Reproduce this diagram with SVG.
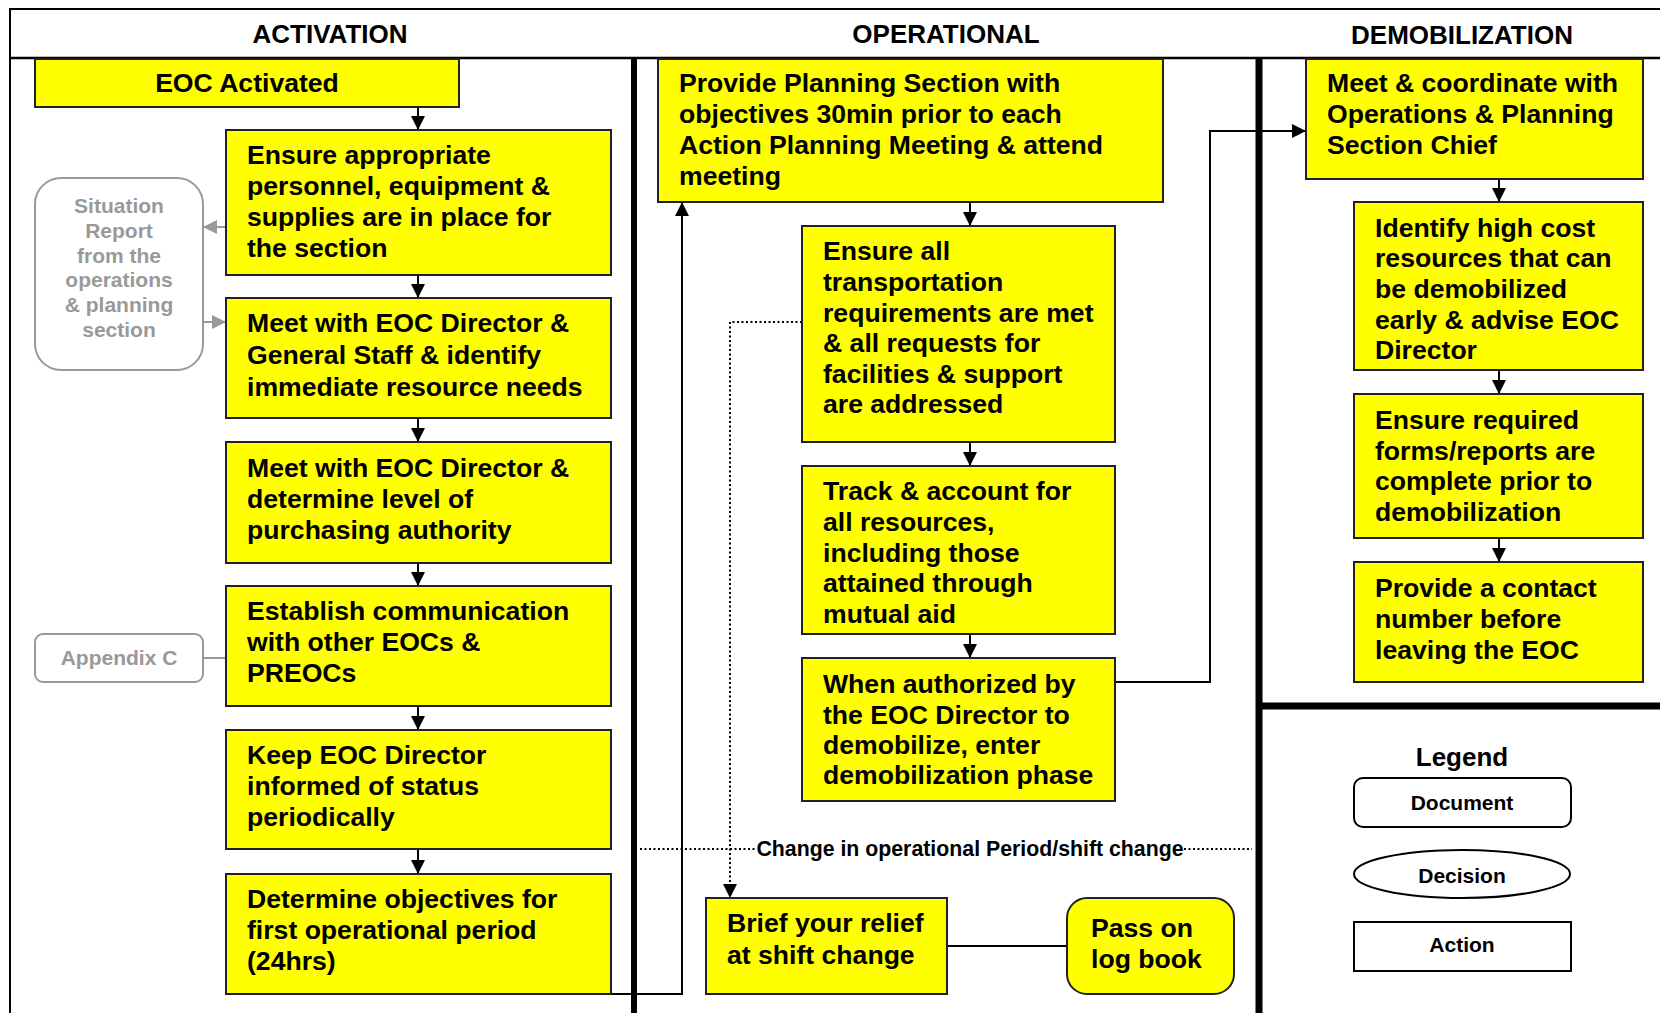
<svg xmlns="http://www.w3.org/2000/svg" width="1660" height="1013" viewBox="0 0 1660 1013">
<style>
  text { font-family: "Liberation Sans", Arial, sans-serif; font-weight: bold; }
  .hdr { font-size: 26px; fill: #000; text-anchor: middle; }
  .act rect { fill: #ffff00; stroke: #222; stroke-width: 2; }
  .act text { font-size: 26.6px; fill: #000; }
  .doc rect { fill: #fff; stroke: #999; stroke-width: 2; }
  .doc text { font-size: 21px; fill: #999; text-anchor: middle; }
  .leg rect, .leg ellipse { fill: #fff; stroke: #000; stroke-width: 2; }
  .leg text { font-size: 21px; fill: #000; text-anchor: middle; }
  .leg text.legtitle { font-size: 26px; }
  .frame { stroke: #000; fill: none; }
  .c { fill: none; stroke: #000; stroke-width: 2; }
  .cg { fill: none; stroke: #999; stroke-width: 2; }
  .dot { fill: none; stroke: #000; stroke-width: 2; stroke-dasharray: 2 2.5; }
</style>
<defs>
  <marker id="ah" markerUnits="userSpaceOnUse" markerWidth="14" markerHeight="14" refX="14" refY="7" orient="auto">
    <path d="M0,0 L14,7 L0,14 z" fill="#000"/>
  </marker>
  <marker id="ahg" markerUnits="userSpaceOnUse" markerWidth="14" markerHeight="14" refX="14" refY="7" orient="auto">
    <path d="M0,0 L14,7 L0,14 z" fill="#999"/>
  </marker>
</defs>
<rect width="1660" height="1013" fill="#fff"/>

<g id="frame">
  <line class="frame" x1="10" y1="9" x2="1660" y2="9" stroke-width="2"/>
  <line class="frame" x1="10" y1="8" x2="10" y2="1013" stroke-width="2"/>
  <line class="frame" x1="10" y1="58" x2="1660" y2="58" stroke-width="2.5"/>
  <line class="frame" x1="634" y1="58" x2="634" y2="1013" stroke-width="6"/>
  <line class="frame" x1="1259" y1="58" x2="1259" y2="1013" stroke-width="7"/>
  <line class="frame" x1="1259" y1="706" x2="1660" y2="706" stroke-width="7"/>
  <text class="hdr" x="330" y="43">ACTIVATION</text>
  <text class="hdr" x="946" y="43">OPERATIONAL</text>
  <text class="hdr" x="1462" y="44">DEMOBILIZATION</text>
</g>

<g id="connectors">
  <line class="c" x1="418" y1="107" x2="418" y2="130" marker-end="url(#ah)"/>
  <line class="c" x1="418" y1="275" x2="418" y2="298" marker-end="url(#ah)"/>
  <line class="c" x1="418" y1="418" x2="418" y2="442" marker-end="url(#ah)"/>
  <line class="c" x1="418" y1="563" x2="418" y2="586" marker-end="url(#ah)"/>
  <line class="c" x1="418" y1="706" x2="418" y2="730" marker-end="url(#ah)"/>
  <line class="c" x1="418" y1="849" x2="418" y2="874" marker-end="url(#ah)"/>
  <line class="cg" x1="226" y1="227" x2="203" y2="227" marker-end="url(#ahg)"/>
  <line class="cg" x1="203" y1="322" x2="226" y2="322" marker-end="url(#ahg)"/>
  <line class="cg" x1="203" y1="658" x2="226" y2="658"/>
  <path class="c" d="M611,994 H682 V202" marker-end="url(#ah)"/>
  <line class="c" x1="970" y1="202" x2="970" y2="226" marker-end="url(#ah)"/>
  <line class="c" x1="970" y1="442" x2="970" y2="466" marker-end="url(#ah)"/>
  <line class="c" x1="970" y1="634" x2="970" y2="658" marker-end="url(#ah)"/>
  <path class="c" d="M1115,682 H1210 V131 H1306" marker-end="url(#ah)"/>
  <path class="dot" d="M802,322 H730 V898" marker-end="url(#ah)"/>
  <line class="dot" x1="640" y1="849" x2="756" y2="849"/>
  <line class="dot" x1="1184" y1="849" x2="1252" y2="849"/>
  <text x="970" y="856" font-size="21.3" text-anchor="middle" fill="#000">Change in operational Period/shift change</text>
  <line class="c" x1="947" y1="946" x2="1067" y2="946"/>
  <line class="c" x1="1499" y1="179" x2="1499" y2="202" marker-end="url(#ah)"/>
  <line class="c" x1="1499" y1="370" x2="1499" y2="394" marker-end="url(#ah)"/>
  <line class="c" x1="1499" y1="538" x2="1499" y2="562" marker-end="url(#ah)"/>
</g>

<g id="eoc-activated" class="act">
  <rect x="35" y="59" width="424" height="48"/>
  <text x="247" y="92" text-anchor="middle">EOC Activated</text>
</g>
<g id="ensure-appropriate" class="act">
  <rect x="226" y="130" width="385" height="145"/>
  <text x="247" y="164">Ensure appropriate</text>
  <text x="247" y="195">personnel, equipment &amp;</text>
  <text x="247" y="226">supplies are in place for</text>
  <text x="247" y="257">the section</text>
</g>
<g id="meet-general-staff" class="act">
  <rect x="226" y="298" width="385" height="120"/>
  <text x="247" y="332">Meet with EOC Director &amp;</text>
  <text x="247" y="364">General Staff &amp; identify</text>
  <text x="247" y="396">immediate resource needs</text>
</g>
<g id="meet-purchasing" class="act">
  <rect x="226" y="442" width="385" height="121"/>
  <text x="247" y="477">Meet with EOC Director &amp;</text>
  <text x="247" y="508">determine level of</text>
  <text x="247" y="539">purchasing authority</text>
</g>
<g id="establish-communication" class="act">
  <rect x="226" y="586" width="385" height="120"/>
  <text x="247" y="620">Establish communication</text>
  <text x="247" y="651">with other EOCs &amp;</text>
  <text x="247" y="682">PREOCs</text>
</g>
<g id="keep-informed" class="act">
  <rect x="226" y="730" width="385" height="119"/>
  <text x="247" y="764">Keep EOC Director</text>
  <text x="247" y="795">informed of status</text>
  <text x="247" y="826">periodically</text>
</g>
<g id="determine-objectives" class="act">
  <rect x="226" y="874" width="385" height="120"/>
  <text x="247" y="908">Determine objectives for</text>
  <text x="247" y="939">first operational period</text>
  <text x="247" y="970">(24hrs)</text>
</g>
<g id="situation-report" class="doc">
  <rect x="35" y="178" width="168" height="192" rx="26"/>
  <text x="119" y="213">Situation</text>
  <text x="119" y="238">Report</text>
  <text x="119" y="263">from the</text>
  <text x="119" y="287">operations</text>
  <text x="119" y="312">&amp; planning</text>
  <text x="119" y="337">section</text>
</g>
<g id="appendix-c" class="doc">
  <rect x="35" y="634" width="168" height="48" rx="8"/>
  <text x="119" y="665">Appendix C</text>
</g>

<g id="provide-planning" class="act">
  <rect x="658" y="59" width="505" height="143"/>
  <text x="679" y="92">Provide Planning Section with</text>
  <text x="679" y="123">objectives 30min prior to each</text>
  <text x="679" y="154">Action Planning Meeting &amp; attend</text>
  <text x="679" y="185">meeting</text>
</g>
<g id="ensure-transportation" class="act">
  <rect x="802" y="226" width="313" height="216"/>
  <text x="823" y="260">Ensure all</text>
  <text x="823" y="291">transportation</text>
  <text x="823" y="322">requirements are met</text>
  <text x="823" y="352">&amp; all requests for</text>
  <text x="823" y="383">facilities &amp; support</text>
  <text x="823" y="413">are addressed</text>
</g>
<g id="track-resources" class="act">
  <rect x="802" y="466" width="313" height="168"/>
  <text x="823" y="500">Track &amp; account for</text>
  <text x="823" y="531">all resources,</text>
  <text x="823" y="562">including those</text>
  <text x="823" y="592">attained through</text>
  <text x="823" y="623">mutual aid</text>
</g>
<g id="when-authorized" class="act">
  <rect x="802" y="658" width="313" height="143"/>
  <text x="823" y="693">When authorized by</text>
  <text x="823" y="724">the EOC Director to</text>
  <text x="823" y="754">demobilize, enter</text>
  <text x="823" y="784">demobilization phase</text>
</g>
<g id="brief-relief" class="act">
  <rect x="706" y="898" width="241" height="96"/>
  <text x="727" y="932">Brief your relief</text>
  <text x="727" y="964">at shift change</text>
</g>
<g id="pass-log-book" class="act">
  <rect x="1067" y="898" width="167" height="96" rx="20"/>
  <text x="1091" y="937">Pass on</text>
  <text x="1091" y="968">log book</text>
</g>

<g id="meet-coordinate" class="act">
  <rect x="1306" y="59" width="337" height="120"/>
  <text x="1327" y="92">Meet &amp; coordinate with</text>
  <text x="1327" y="123">Operations &amp; Planning</text>
  <text x="1327" y="154">Section Chief</text>
</g>
<g id="identify-high-cost" class="act">
  <rect x="1354" y="202" width="289" height="168"/>
  <text x="1375" y="237">Identify high cost</text>
  <text x="1375" y="267">resources that can</text>
  <text x="1375" y="298">be demobilized</text>
  <text x="1375" y="329">early &amp; advise EOC</text>
  <text x="1375" y="359">Director</text>
</g>
<g id="ensure-forms" class="act">
  <rect x="1354" y="394" width="289" height="144"/>
  <text x="1375" y="429">Ensure required</text>
  <text x="1375" y="460">forms/reports are</text>
  <text x="1375" y="490">complete prior to</text>
  <text x="1375" y="521">demobilization</text>
</g>
<g id="provide-contact" class="act">
  <rect x="1354" y="562" width="289" height="120"/>
  <text x="1375" y="597">Provide a contact</text>
  <text x="1375" y="628">number before</text>
  <text x="1375" y="659">leaving the EOC</text>
</g>

<g id="legend" class="leg">
  <text class="legtitle" x="1462" y="766">Legend</text>
  <g id="legend-document">
    <rect x="1354" y="778" width="217" height="49" rx="9"/>
    <text x="1462" y="810">Document</text>
  </g>
  <g id="legend-decision">
    <ellipse cx="1462" cy="874" rx="108" ry="24"/>
    <text x="1462" y="883">Decision</text>
  </g>
  <g id="legend-action">
    <rect x="1354" y="922" width="217" height="49"/>
    <text x="1462" y="952">Action</text>
  </g>
</g>
</svg>
